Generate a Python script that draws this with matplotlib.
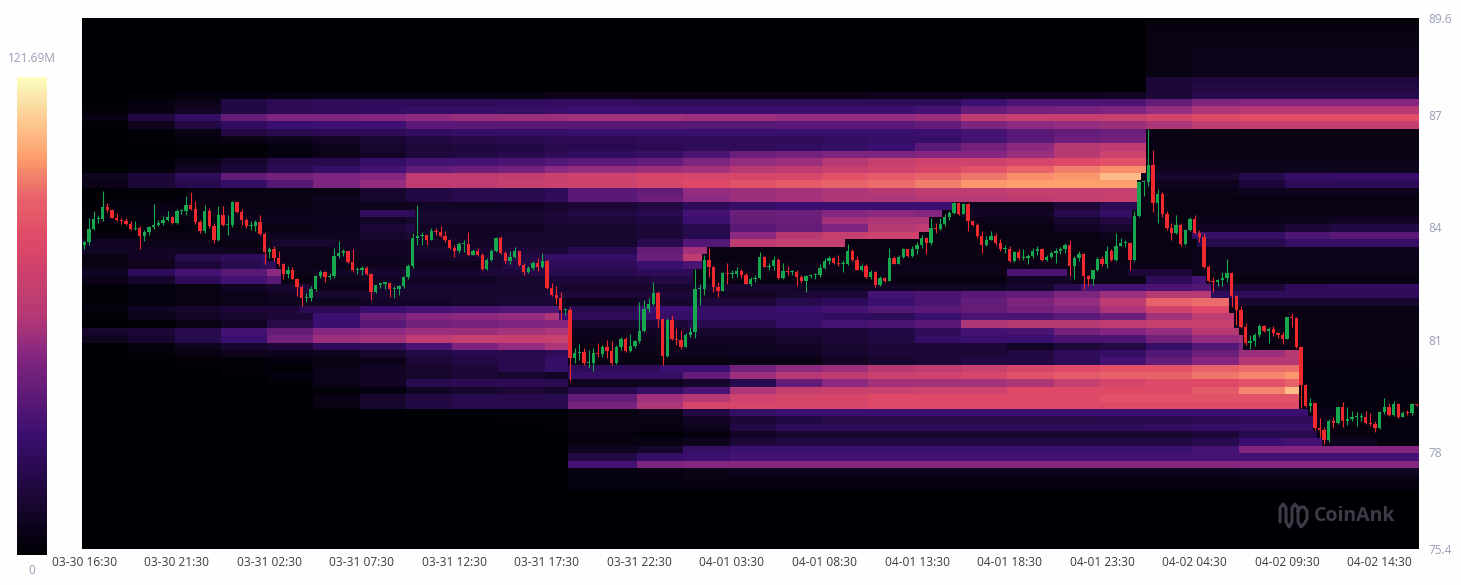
import numpy as np
import matplotlib
matplotlib.use("Agg")
import matplotlib.pyplot as plt
from matplotlib.colors import LinearSegmentedColormap
from matplotlib.lines import Line2D

plt.rcParams['font.family'] = ['Open Sans', 'DejaVu Sans']

W, H = 1461, 585

# candles, 15 min each. open = close of the candle before
first_open = 83.54
closes = [
 83.60,83.97,84.23,84.23,84.54,84.47,84.25,84.20,84.18,84.09,
 83.96,83.99,83.76,83.88,84.00,84.07,84.12,84.21,84.27,84.12,
 84.43,84.45,84.61,84.50,84.14,83.91,84.43,84.03,83.65,84.33,
 84.06,84.06,84.67,84.41,84.21,84.03,84.03,84.15,83.83,83.34,
 83.42,83.18,83.01,82.76,82.87,82.63,82.40,82.11,82.11,82.34,
 82.70,82.80,82.67,82.70,83.23,83.32,83.36,83.08,82.85,82.87,
 82.92,82.76,82.28,82.45,82.50,82.50,82.36,82.36,82.43,82.67,
 82.96,83.72,83.76,83.79,83.67,83.91,83.88,83.76,83.65,83.45,
 83.36,83.56,83.56,83.27,83.36,83.27,82.90,83.14,83.36,83.72,
 83.32,83.10,83.21,83.36,82.99,82.81,82.92,83.05,82.94,83.11,
 82.38,82.19,82.10,81.78,81.78,80.50,80.65,80.68,80.37,80.38,
 80.63,80.62,80.79,80.70,80.37,80.81,81.01,80.70,80.83,80.95,
 81.24,81.81,81.95,82.25,81.54,80.56,81.53,81.01,80.99,80.81,
 81.12,81.21,82.35,82.35,83.13,82.93,82.40,82.31,82.77,82.76,
 82.76,82.84,82.73,82.50,82.61,82.66,83.20,82.95,82.96,83.14,
 82.65,82.83,82.81,82.81,82.67,82.56,82.70,82.72,82.72,82.92,
 83.10,83.17,83.05,83.03,83.03,83.36,83.14,82.87,82.96,82.67,
 82.80,82.47,82.65,82.58,83.17,83.03,83.20,83.41,83.23,83.41,
 83.52,83.72,83.59,83.99,83.96,84.09,84.27,84.39,84.65,84.36,
 84.63,84.17,84.07,83.76,83.54,83.67,83.76,83.59,83.41,83.41,
 83.10,83.34,83.17,83.17,83.23,83.36,83.43,83.14,83.20,83.32,
 83.38,83.41,83.54,82.96,83.18,83.29,82.70,82.61,82.85,83.16,
 83.01,83.36,83.14,83.51,83.59,83.59,83.14,84.30,85.22,85.22,
 85.66,84.64,84.89,84.36,83.98,83.86,84.06,83.56,83.93,84.22,
 83.86,83.74,82.93,82.58,82.55,82.60,82.64,82.79,82.17,81.79,
 81.33,80.90,80.97,81.12,81.36,81.24,81.29,81.17,81.12,81.01,
 81.60,81.57,80.81,79.79,79.22,79.30,78.63,78.58,78.32,78.83,
 78.76,79.21,78.83,78.87,78.92,78.94,78.94,78.76,78.74,78.63,
 79.07,79.21,78.98,79.28,78.94,79.05,79.03,79.28,79.25,
]
highs = [
 83.63,84.24,84.45,84.34,84.97,84.64,84.50,84.39,84.25,84.24,
 84.16,84.16,84.03,83.94,84.03,84.63,84.21,84.30,84.43,84.30,
 84.48,84.50,84.83,84.95,84.70,84.21,84.59,84.52,84.12,84.57,
 84.57,84.34,84.70,84.68,84.48,84.25,84.16,84.21,84.34,83.87,
 83.47,83.50,83.36,83.05,82.96,82.93,82.65,82.47,82.25,82.43,
 82.74,82.85,82.83,82.78,83.45,83.63,83.41,83.38,83.43,82.93,
 82.96,82.96,82.78,82.47,82.52,82.53,82.53,82.43,82.47,82.70,
 83.01,83.85,84.61,83.88,83.81,83.99,83.99,84.03,83.90,83.70,
 83.52,83.60,83.67,83.87,83.42,83.45,83.32,83.18,83.41,83.75,
 83.76,83.36,83.36,83.47,83.38,83.05,82.96,83.10,83.17,83.32,
 83.14,82.52,82.43,82.28,81.85,81.88,80.77,80.88,80.77,80.72,
 80.77,80.90,80.86,80.99,80.95,80.86,81.08,81.08,81.14,80.99,
 82.01,82.06,82.10,82.55,82.30,81.57,81.57,81.66,81.30,81.26,
 81.17,81.35,82.88,82.50,83.26,83.46,82.97,82.55,82.82,83.04,
 82.86,82.95,82.88,82.77,82.68,82.73,83.35,83.24,83.05,83.23,
 83.17,83.05,82.96,82.87,82.87,82.74,82.74,82.76,82.78,83.01,
 83.18,83.23,83.20,83.27,83.14,83.56,83.41,83.23,83.01,83.01,
 82.85,82.83,82.70,82.67,83.45,83.23,83.27,83.45,83.41,83.50,
 83.61,83.79,83.74,84.25,84.12,84.24,84.36,84.45,84.68,84.68,
 84.65,84.65,84.21,84.12,83.90,83.76,83.90,83.85,83.70,83.54,
 83.50,83.38,83.41,83.41,83.30,83.45,83.50,83.45,83.26,83.38,
 83.45,83.47,83.59,83.65,83.23,83.36,83.32,82.74,82.87,83.20,
 83.23,83.50,83.41,83.85,83.72,83.67,83.60,84.45,85.25,85.28,
 86.62,86.07,85.03,84.96,84.45,84.11,84.33,84.13,83.95,84.27,
 84.33,83.93,83.84,82.99,82.67,82.61,82.82,83.15,82.82,82.19,
 81.90,81.44,81.12,81.17,81.42,81.38,81.35,81.36,81.19,81.19,
 81.61,81.70,81.60,80.83,79.80,79.43,79.30,78.89,78.67,78.87,
 78.92,79.22,79.34,79.21,79.10,79.07,79.03,79.10,79.03,78.83,
 79.10,79.43,79.30,79.37,79.30,79.10,79.12,79.31,79.28,
]
lows = [
 83.41,83.54,83.94,84.12,84.18,84.41,84.24,84.18,84.09,84.06,
 83.94,83.94,83.43,83.63,83.81,83.97,84.03,84.06,84.16,84.09,
 84.10,84.36,84.34,84.47,84.09,83.85,83.85,83.99,83.59,83.63,
 84.03,83.81,84.00,84.39,84.06,83.99,83.94,83.90,83.81,83.02,
 83.18,83.10,82.96,82.63,82.65,82.61,82.16,81.89,82.01,82.03,
 82.29,82.65,82.54,82.63,82.65,83.18,83.23,83.05,82.81,82.76,
 82.74,82.72,82.07,82.25,82.38,82.36,82.13,82.10,82.20,82.38,
 82.61,82.92,83.54,83.52,83.54,83.65,83.81,83.74,83.61,83.43,
 83.20,83.32,83.34,83.25,83.26,83.23,82.85,82.87,83.11,83.33,
 83.30,83.05,83.01,83.18,82.96,82.74,82.78,82.87,82.83,82.92,
 82.34,82.16,81.94,81.53,81.67,79.88,80.38,80.45,80.32,80.23,
 80.17,80.54,80.54,80.50,80.32,80.35,80.72,80.68,80.68,80.77,
 80.90,81.21,81.75,81.93,81.35,80.32,80.54,80.99,80.86,80.74,
 80.79,81.08,81.03,81.93,82.19,82.68,82.28,82.13,82.31,82.50,
 82.64,82.68,82.66,82.49,82.42,82.55,82.62,82.93,82.87,82.85,
 82.63,82.63,82.74,82.74,82.43,82.52,82.28,82.65,82.63,82.67,
 82.90,83.02,83.01,82.96,82.81,82.99,83.11,82.85,82.83,82.65,
 82.61,82.40,82.43,82.54,82.56,83.01,83.02,83.17,83.20,83.20,
 83.29,83.45,83.29,83.52,83.85,83.94,84.03,84.21,84.36,84.33,
 84.36,83.91,84.03,83.72,83.32,83.50,83.65,83.54,83.36,83.32,
 83.08,83.08,83.14,83.14,83.01,83.18,83.27,83.11,83.11,83.17,
 83.05,83.29,83.32,82.70,82.63,83.11,82.34,82.43,82.47,82.83,
 82.96,82.92,83.10,83.11,83.50,83.47,82.87,83.11,84.27,84.83,
 85.10,84.42,84.13,84.29,83.93,83.67,83.83,83.49,83.53,83.91,
 83.83,83.62,82.91,82.55,82.26,82.42,82.42,82.55,81.88,81.39,
 81.30,80.86,80.74,80.83,81.06,81.19,80.92,81.10,81.03,80.88,
 81.01,81.35,80.77,79.16,79.21,79.07,78.58,78.40,78.21,78.27,
 78.63,78.74,78.65,78.72,78.83,78.69,78.81,78.74,78.69,78.54,
 78.60,79.01,78.96,78.96,78.89,78.92,78.98,78.98,79.22,
]

# heat cells, 0-100 on the colour scale, one line per price band from the top
# columns start at the candles in heat_col_start
heat_col_start = [0,10,20,30,40,50,60,70,80,90,100,105,120,130,140,150,160,170,180,190,200,210,220,230,240,250,260,270,280]
heat_rows = [
 [0,0,0,0,0,0,0,0,0,0,0,0,0,0,0,0,0,0,0,0,0,0,0,1,1,1,1,1,1],
 [0,0,0,0,0,0,0,0,0,0,0,0,0,0,0,0,0,0,0,0,0,0,0,3,3,3,3,3,3],
 [0,0,0,0,0,0,0,0,0,0,0,0,0,0,0,0,0,0,0,0,0,0,0,3,3,3,3,3,3],
 [0,0,0,0,0,0,0,0,0,0,0,0,0,0,0,0,0,0,0,0,0,0,0,3,3,3,3,3,3],
 [0,0,0,0,0,0,0,0,0,0,0,0,0,0,0,0,0,0,0,0,0,0,0,3,4,4,4,4,4],
 [0,0,0,0,0,0,0,0,0,0,0,0,0,0,0,0,0,0,0,0,0,0,0,3,4,4,4,4,4],
 [0,0,0,0,0,0,0,0,0,0,0,0,0,0,0,0,0,0,0,0,0,0,0,3,4,4,4,4,4],
 [0,0,0,0,0,0,0,0,0,0,0,0,0,0,0,0,0,0,0,0,0,0,0,3,4,4,4,4,4],
 [0,0,0,0,0,0,0,0,0,0,0,0,0,0,0,0,0,0,0,0,0,0,0,9,11,11,11,11,11],
 [0,0,0,0,0,0,0,0,0,0,0,0,0,0,0,0,0,0,0,0,0,0,0,10,12,12,12,12,12],
 [0,1,2,2,3,3,3,3,3,3,4,4,4,4,4,4,4,5,5,5,5,5,6,10,14,14,14,14,14],
 [0,2,4,12,15,16,16,16,16,17,17,17,16,16,16,16,16,16,16,20,24,24,24,30,36,38,38,38,38],
 [1,3,6,12,15,16,17,18,18,18,19,20,20,20,20,20,20,20,22,30,34,35,36,42,48,50,50,50,50],
 [3,12,18,30,36,37,38,41,43,44,44,45,45,44,44,42,42,42,44,52,54,54,54,57,60,61,61,61,61],
 [1,5,12,17,20,21,21,28,28,28,28,28,28,27,27,28,28,28,30,36,40,42,44,48,52,54,54,54,54],
 [0,1,3,12,14,15,16,17,18,19,19,20,20,20,20,20,20,20,20,22,28,30,32,3,3,3,3,3,3],
 [0,1,2,4,5,7,9,12,13,14,15,15,16,16,16,16,17,18,18,22,28,32,34,3,3,3,3,3,3],
 [0,0,1,1,2,4,8,10,11,12,13,14,15,16,16,17,18,20,28,34,40,50,52,3,3,3,3,3,3],
 [0,0,0,1,2,4,7,11,12,14,16,17,18,24,32,34,36,36,38,38,44,50,56,3,3,3,3,3,3],
 [0,1,4,8,13,14,18,22,22,24,26,28,30,36,42,44,50,54,56,56,58,60,62,4,4,4,4,4,4],
 [0,2,6,10,15,18,22,30,32,34,40,42,44,46,50,52,54,56,58,62,66,72,76,5,5,5,5,5,5],
 [5,10,16,30,34,36,38,52,52,53,55,56,58,58,58,58,62,64,66,70,76,78,86,4,8,14,18,19,19],
 [4,10,14,18,26,36,42,52,52,54,55,56,58,60,62,64,66,68,72,78,80,80,80,3,5,10,16,16,16],
 [0,1,1,3,3,3,8,12,14,14,16,28,30,42,44,46,48,50,52,52,54,54,54,3,4,5,5,5,5],
 [0,1,2,3,3,5,8,12,14,14,17,28,32,40,44,46,48,48,50,50,52,53,54,3,3,3,3,3,3],
 [0,2,3,3,3,4,5,5,6,7,8,10,12,16,18,20,20,20,20,4,5,10,15,3,3,3,3,3,3],
 [1,2,4,4,4,5,17,16,8,8,10,12,14,22,32,32,38,40,38,3,6,14,18,3,3,3,3,3,3],
 [1,2,2,3,5,5,6,8,8,8,10,10,12,20,30,32,46,48,48,3,4,8,12,3,3,4,5,6,6],
 [1,1,2,2,3,5,10,12,6,6,8,8,10,14,28,30,36,50,52,3,3,6,8,3,4,6,10,12,12],
 [1,2,3,3,5,5,8,10,6,6,8,8,10,14,40,50,54,56,56,3,3,3,5,3,3,18,25,28,28],
 [4,6,4,3,5,8,6,6,6,7,8,8,14,26,52,54,54,3,3,3,3,3,3,3,3,14,18,18,18],
 [5,6,6,5,5,4,6,7,8,8,10,14,30,46,3,3,3,3,3,3,3,3,3,3,4,4,5,5,5],
 [3,6,14,16,18,4,5,6,7,8,12,18,32,52,3,3,3,3,3,3,3,3,3,3,4,4,4,4,4],
 [3,5,10,14,16,4,4,5,5,8,12,16,20,24,4,4,4,4,4,4,4,4,4,4,4,4,4,4,4],
 [6,16,22,28,40,4,6,8,8,10,12,14,16,16,4,4,4,4,4,4,24,24,4,10,4,4,4,4,4],
 [4,8,16,22,28,3,5,6,6,8,8,10,10,12,3,3,3,3,3,3,6,6,4,16,22,3,3,3,3],
 [1,2,3,6,8,10,4,8,8,8,8,8,8,8,8,8,6,6,6,6,8,14,22,24,26,10,16,17,17],
 [1,2,3,4,6,8,8,8,8,8,10,10,10,10,6,8,10,22,24,28,30,36,44,50,50,16,16,16,16],
 [1,2,3,4,5,5,6,7,8,9,10,5,6,8,10,14,16,20,24,30,36,42,52,66,68,8,8,8,8],
 [2,6,8,10,10,15,20,22,24,25,25,8,14,20,18,20,22,26,28,30,34,38,48,56,60,3,3,3,3],
 [1,4,6,8,10,20,32,38,40,42,48,20,16,18,18,18,17,16,20,24,24,28,32,46,52,3,3,3,3],
 [0,1,3,6,13,20,28,34,35,36,38,6,8,10,14,18,22,24,28,48,50,50,52,54,54,3,3,3,3],
 [8,10,14,22,30,38,40,44,44,46,48,5,5,6,8,10,10,12,16,22,24,34,38,42,50,3,3,3,3],
 [5,8,14,20,34,44,46,52,54,54,55,4,4,5,6,8,10,12,18,20,20,24,24,34,42,45,3,3,3],
 [0,2,5,8,10,16,16,24,36,42,48,4,3,4,5,6,8,10,10,10,6,10,12,18,26,36,3,3,3],
 [0,1,3,5,5,5,8,12,14,14,16,5,4,5,6,6,8,10,10,10,12,16,18,26,32,44,50,3,3],
 [0,0,1,1,2,3,4,10,12,14,18,3,3,3,3,3,6,8,10,12,12,16,22,30,38,50,50,3,3],
 [0,0,0,1,1,4,6,8,10,14,18,14,16,20,34,40,44,50,52,55,58,60,62,62,66,68,68,2,2],
 [0,0,0,1,2,4,6,8,10,8,6,14,18,30,44,50,52,55,56,58,62,64,65,66,70,74,78,2,2],
 [0,0,0,0,1,4,6,14,15,15,14,6,5,8,14,30,40,46,46,46,48,54,58,60,60,62,66,2,2],
 [0,0,0,0,0,1,2,6,8,10,8,14,18,24,48,54,55,55,56,56,60,60,60,60,64,74,86,2,2],
 [0,0,0,0,0,3,8,12,14,14,14,30,45,50,56,58,58,60,60,60,60,60,62,62,62,62,62,2,2],
 [0,0,0,0,0,3,8,12,14,14,14,35,48,58,58,58,58,60,60,60,60,60,60,60,60,60,60,2,2],
 [0,0,0,0,0,0,0,1,1,1,1,3,4,12,18,20,20,20,20,20,20,20,20,20,20,20,20,4,2],
 [0,0,0,0,0,0,0,0,0,1,1,3,3,6,10,12,13,13,13,13,13,13,14,14,15,16,16,4,2],
 [0,0,0,0,0,0,0,0,0,0,1,3,3,5,12,16,16,16,16,16,16,16,16,17,18,18,18,3,2],
 [0,0,0,0,0,0,0,0,0,0,0,2,1,2,6,8,8,8,8,8,8,8,8,8,10,14,14,3,2],
 [0,0,0,0,0,0,0,0,0,0,0,3,3,5,10,12,12,12,12,12,12,12,12,12,14,20,22,5,2],
 [0,0,0,0,0,0,0,0,0,0,0,5,8,18,20,20,20,20,20,20,20,20,20,20,22,38,38,38,38],
 [0,0,0,0,0,0,0,0,0,0,0,12,18,20,22,22,22,22,22,22,22,22,22,22,22,22,22,22,22],
 [0,0,0,0,0,0,0,0,0,0,0,22,36,38,38,38,38,38,38,38,38,38,38,38,38,38,38,38,38],
 [0,0,0,0,0,0,0,0,0,0,0,2,3,4,5,5,5,5,5,5,5,5,5,5,5,6,6,6,6],
 [0,0,0,0,0,0,0,0,0,0,0,2,2,3,3,3,3,3,3,3,3,3,3,3,3,3,3,3,3],
 [0,0,0,0,0,0,0,0,0,0,0,2,2,2,2,2,2,2,2,2,2,2,2,2,2,2,2,2,2],
]

x_labels = ["03-30 16:30", "03-30 21:30", "03-31 02:30", "03-31 07:30", "03-31 12:30",
            "03-31 17:30", "03-31 22:30", "04-01 03:30", "04-01 08:30", "04-01 13:30",
            "04-01 18:30", "04-01 23:30", "04-02 04:30", "04-02 09:30", "04-02 14:30"]
y_ticks = [75.4, 78, 81, 84, 87, 89.6]
y_labels = ["75.4", "78", "81", "84", "87", "89.6"]
scale_top = "121.69M"
scale_bottom = "0"

colours = ["#000004", "#3b0f70", "#8c2981", "#de4968", "#fe9f6d", "#fcfdbf"]
cmap = LinearSegmentedColormap.from_list("heat", colours)
grey = "#9a9eb5"


def box(x0, y0, x1, y1):
    # pixel box -> figure fractions
    return [x0 / W, 1 - y1 / H, (x1 - x0) / W, (y1 - y0) / H]


closes = np.array(closes)
highs = np.array(highs)
lows = np.array(lows)
opens = np.r_[first_open, closes[:-1]]
n = len(closes)

table = np.array(heat_rows, dtype=float)
bands = 72
edges = np.linspace(89.6, 75.4, bands + 1)
col_of = np.searchsorted(heat_col_start, np.arange(n), side="right") - 1

# a band goes over to the next column value as soon as price has gone through it
heat = np.zeros((bands, n))
for r in range(table.shape[0]):
    hit_col = -1
    for i in range(n):
        c = col_of[i]
        if lows[i] <= edges[r] and highs[i] >= edges[r + 1]:
            hit_col = c
        if hit_col == c:
            heat[r, i] = table[r, min(c + 1, table.shape[1] - 1)]
        else:
            heat[r, i] = table[r, c]

fig = plt.figure(figsize=(W / 100, H / 100), dpi=100, facecolor="#fefefe")

ax = fig.add_axes(box(82, 18, 1419, 549))
ax.pcolormesh(np.arange(n + 1), edges, heat, cmap=cmap, vmin=0, vmax=100, antialiased=False)

up = closes >= opens
for mask, col in ((up, "#17a74f"), (~up, "#ee2a2e")):
    xs = np.arange(n)[mask] + 0.5
    ax.vlines(xs, lows[mask], highs[mask], color=col, linewidth=0.8)
    bottom = np.minimum(opens, closes)[mask]
    height = np.maximum(np.abs(closes - opens)[mask], 0.03)
    ax.bar(xs, height, bottom=bottom, width=0.72, color=col, linewidth=0)

ax.set_xlim(0, n)
ax.set_ylim(75.4, 89.6)
ax.yaxis.tick_right()
ax.set_yticks(y_ticks)
ax.set_yticklabels(y_labels, color=grey, fontsize=8.6)
ax.tick_params(axis="y", length=0, pad=7)
ax.set_xticks(np.arange(0, n, 20) + 0.5)
ax.set_xticklabels(x_labels, color="#3c3c3c", fontsize=8.6)
ax.tick_params(axis="x", length=0, pad=5)
for s in ax.spines.values():
    s.set_visible(False)

# watermark
fig.text(1314 / W, 1 - 516 / H, "CoinAnk", color="#3b3c47", fontsize=14, fontweight="bold", va="center")
wave_x = [1280, 1280, 1283, 1286, 1286, 1286, 1289, 1292, 1292, 1292, 1295, 1298, 1298, 1298, 1301, 1304, 1307, 1307, 1304, 1301, 1298]
wave_y = [522, 508, 504, 508, 516, 522, 527, 522, 516, 508, 504, 508, 516, 522, 527, 524, 519, 511, 507, 507, 511]
fig.add_artist(Line2D(np.array(wave_x) / W, 1 - np.array(wave_y) / H, color="#3b3c47", linewidth=2.2,
                      solid_capstyle="round", solid_joinstyle="round"))

# colour scale on the left, the bar in the picture runs a bit stretched against the cells
cax = fig.add_axes(box(17, 77, 47, 555))
frac = np.linspace(1, 0, 480)
cax.imshow(np.interp(frac, [0, .25, .4, .5, .75, .835, 1], [0, .2, .36, .5, .66, .8, 1]).reshape(-1, 1),
           cmap=cmap, vmin=0, vmax=1, aspect="auto")
cax.axis("off")
fig.text(32 / W, 1 - 58 / H, scale_top, color=grey, fontsize=8.6, ha="center", va="center")
fig.text(32 / W, 1 - 570 / H, scale_bottom, color=grey, fontsize=8.6, ha="center", va="center")

fig.savefig("out.png", dpi=100, facecolor=fig.get_facecolor())
